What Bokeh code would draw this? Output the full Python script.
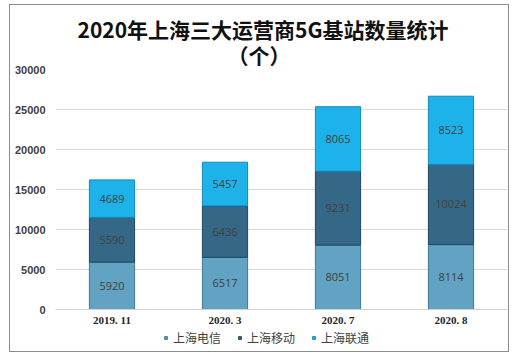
from bokeh.plotting import figure
from bokeh.layouts import column
from bokeh.models import (Title, Legend, LegendItem, ColumnDataSource, FactorRange,
                          Range1d, FixedTicker)
from bokeh.embed import file_html
from bokeh.resources import INLINE
from bokeh.core.properties import value

months = ["2019. 11", "2020. 3", "2020. 7", "2020. 8"]
telecom = [5920, 6517, 8051, 8114]
mobile = [5590, 6436, 9231, 10024]
unicom = [4689, 5457, 8065, 8523]
series_names = ["上海电信", "上海移动", "上海联通"]
y_ticks = [0, 5000, 10000, 15000, 20000, 25000, 30000]
title_line1 = "2020年上海三大运营商5G基站数量统计"
title_line2 = "（个）"

colors = ["#62a2c2", "#356787", "#1db3ea"]
edges = ["#3f7894", "#1d4760", "#1089bb"]

p = figure(width=500, height=323, x_range=FactorRange(factors=months),
           y_range=Range1d(0, 30000), output_backend="svg", toolbar_location=None,
           min_border_left=45, min_border_right=1, min_border_top=64, min_border_bottom=19,
           title=None)
p.outline_line_color = None
p.background_fill_color = "white"
p.border_fill_color = "white"

src = ColumnDataSource(dict(month=months, telecom=telecom, mobile=mobile, unicom=unicom))
keys = ["telecom", "mobile", "unicom"]
renderers = p.vbar_stack(keys, x="month", width=0.40, source=src,
                         fill_color=colors, line_color=edges, line_width=1)

# segment labels
data = [telecom, mobile, unicom]
lx, ly, lt = [], [], []
for i, m in enumerate(months):
    base = 0
    for s in data:
        lx.append(m)
        ly.append(base + s[i] / 2)
        lt.append(str(s[i]))
        base += s[i]
p.text(x=lx, y=ly, text=lt, text_align="center", text_baseline="middle",
       text_font=value("Open Sans"), text_font_size="11px", text_color="#404040")

# axes
p.yaxis.ticker = FixedTicker(ticks=y_ticks)
p.yaxis.axis_line_color = None
p.yaxis.major_tick_line_color = None
p.yaxis.minor_tick_line_color = None
p.yaxis.major_tick_out = 0
p.yaxis.major_tick_in = 0
p.yaxis.major_label_standoff = 10
p.yaxis.major_label_text_font = "Liberation Sans"
p.yaxis.major_label_text_font_style = "bold"
p.yaxis.major_label_text_font_size = "11px"
p.yaxis.major_label_text_color = "#404040"

p.xaxis.axis_line_color = "#d0d0d0"
p.xaxis.major_tick_line_color = None
p.xaxis.minor_tick_line_color = None
p.xaxis.major_tick_out = 0
p.xaxis.major_tick_in = 0
p.xaxis.minor_tick_out = 0
p.xaxis.major_label_standoff = 4
p.xaxis.major_label_text_font = "Liberation Serif"
p.xaxis.major_label_text_font_style = "bold"
p.xaxis.major_label_text_font_size = "11px"
p.xaxis.major_label_text_color = "#262626"

p.xgrid.grid_line_color = None
p.ygrid.grid_line_color = "#d9d9d9"
p.ygrid.ticker = FixedTicker(ticks=y_ticks)

# title (line2 added first -> nearest to frame)
p.add_layout(Title(text=title_line2, align="left", offset=172, standoff=-1,
                   text_font="Noto Sans CJK SC", text_font_style="bold",
                   text_font_size="21px", text_color="#111111"), "above")
p.add_layout(Title(text=title_line1, align="left", offset=22, standoff=-11,
                   text_font="Noto Sans CJK SC", text_font_style="bold",
                   text_font_size="21px", text_color="#111111"), "above")

# legend strip below the chart
p2 = figure(width=500, height=23, x_range=Range1d(0, 1), y_range=Range1d(0, 1),
            output_backend="svg", toolbar_location=None, min_border=0,
            x_axis_location=None, y_axis_location=None)
p2.outline_line_color = None
p2.grid.grid_line_color = None
p2.background_fill_color = "white"
p2.border_fill_color = "white"
nan = float("nan")
dummies = [p2.scatter(x=[nan], y=[nan], marker="square", size=7, fill_color=c, line_color=e)
           for c, e in zip(colors, edges)]
legend = Legend(items=[LegendItem(label=n, renderers=[r]) for n, r in zip(series_names, dummies)],
                orientation="horizontal", location=(107, 5),
                glyph_width=7, glyph_height=7, label_height=12, label_width=10,
                label_text_font="Noto Sans CJK SC", label_text_font_size="12px",
                label_text_color="#404040", label_standoff=4, spacing=15,
                padding=0, margin=0, border_line_color=None, background_fill_alpha=0)
p2.add_layout(legend, "center")

layout = column(p, p2, spacing=0)
layout.styles = {"margin-left": "9px", "margin-top": "4px", "border": "1px solid #8c8c8c",
                 "width": "500px"}

open("out.html", "w").write(file_html(layout, INLINE))
